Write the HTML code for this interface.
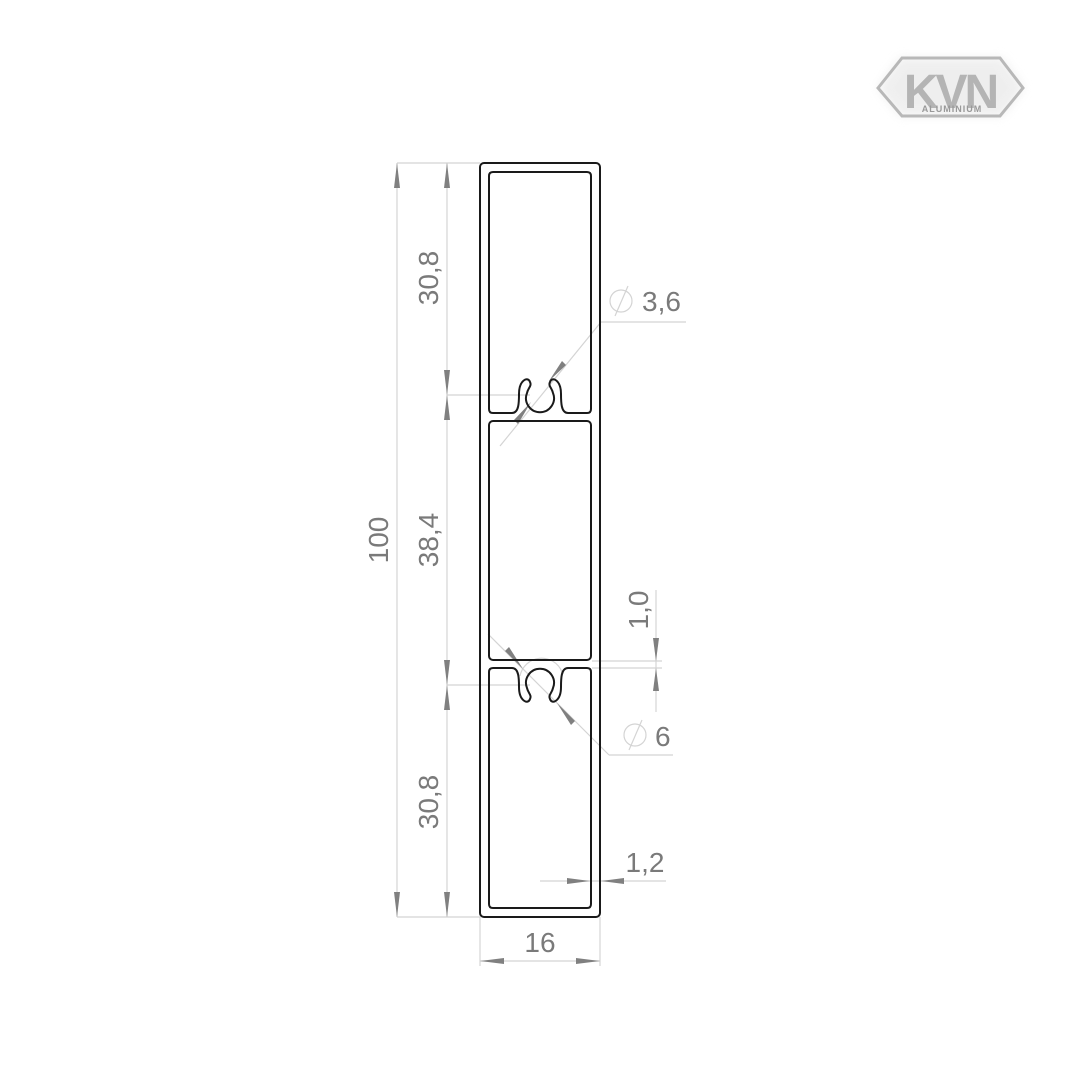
<!DOCTYPE html>
<html><head><meta charset="utf-8"><style>
html,body{margin:0;padding:0;background:#fff;}
svg{display:block;}
text{font-family:"Liberation Sans","DejaVu Sans",sans-serif;fill:#7a7a7a;}
</style></head><body>
<svg width="1080" height="1080" viewBox="0 0 1080 1080" xmlns="http://www.w3.org/2000/svg">
<defs>
<filter id="blur" x="-20%" y="-40%" width="140%" height="180%"><feGaussianBlur stdDeviation="5"/></filter>
</defs>
<g>
<polygon points="878,88 900,58 1002,58 1024,88 1002,116 900,116" fill="#e8e8e8" filter="url(#blur)" opacity="0.7"/>
<polygon points="878,88 902,58 1000,58 1023,88 1000,116 902,116" fill="none" stroke="#b8b8b8" stroke-width="3"/>
<text x="950" y="108" text-anchor="middle" font-size="48" style="fill:#b4b4b4;font-weight:bold" letter-spacing="-3">KVN</text>
<text x="952" y="112" text-anchor="middle" font-size="9" style="fill:#999;font-weight:bold" letter-spacing="1">ALUMINIUM</text>
</g>

<g stroke="#d4d4d4" stroke-width="1.2" fill="none">
<line x1="397" y1="163" x2="480" y2="163"/>
<line x1="397" y1="917" x2="480" y2="917"/>
<line x1="397" y1="163" x2="397" y2="917"/>
<line x1="447" y1="163" x2="447" y2="917"/>
<line x1="447" y1="395" x2="530" y2="395"/>
<line x1="447" y1="685" x2="530" y2="685"/>
<line x1="480" y1="917" x2="480" y2="966"/>
<line x1="600" y1="917" x2="600" y2="966"/>
<line x1="480" y1="961" x2="600" y2="961"/>
<line x1="540" y1="881" x2="666" y2="881"/>
<line x1="656" y1="590" x2="656" y2="712"/>
<line x1="592" y1="661" x2="662" y2="661"/>
<line x1="592" y1="668" x2="662" y2="668"/>
<line x1="500" y1="446" x2="601" y2="322"/>
<line x1="601" y1="322" x2="686" y2="322"/>
<line x1="488" y1="634" x2="609" y2="755"/>
<line x1="609" y1="755" x2="673" y2="755"/>
<path d="M520,676 A22,22 0 0 1 562,672"/>
<circle cx="621" cy="301" r="11"/>
<line x1="615" y1="316" x2="628" y2="286"/>
<circle cx="635" cy="735" r="11"/>
<line x1="629" y1="750" x2="642" y2="720"/>
</g>

<g fill="#808080">
<polygon points="397,163 394,188 400,188"/>
<polygon points="397,917 394,892 400,892"/>
<polygon points="447,163 444,188 450,188"/>
<polygon points="447,395 444,370 450,370"/>
<polygon points="447,395 444,420 450,420"/>
<polygon points="447,685 444,660 450,660"/>
<polygon points="447,685 444,710 450,710"/>
<polygon points="447,917 444,892 450,892"/>
<polygon points="480,961 504,958 504,964"/>
<polygon points="600,961 576,958 576,964"/>
<polygon points="590,881 567,878 567,884"/>
<polygon points="601,881 624,878 624,884"/>
<polygon points="656,661 653,638 659,638"/>
<polygon points="656,668 653,691 659,691"/>
<polygon points="549,381 562,361 566,365"/>
<polygon points="531,402 514,420 518,424"/>
<polygon points="523,669 505,651 509,647"/>
<polygon points="557,703 575,721 571,725"/>
</g>

<g fill="none" stroke="#1a1a1a" stroke-width="2">
<rect x="480" y="163" width="120" height="754" rx="4"/>
<path d="M493,172 H587 Q591,172 591,176 V409 Q591,413 587,413 H568 C561,413 561,402 561,394 C561,380 552,376 550,382 C548,386 552,388 553,393 A14,14 0 1 1 527,393 C528,388 532,386 530,382 C528,376 519,380 519,394 C519,402 519,413 512,413 H493 Q489,413 489,409 V176 Q489,172 493,172 Z"/>
<rect x="489" y="421" width="102" height="239" rx="4"/>
<path d="M493,908 H587 Q591,908 591,904 V672 Q591,668 587,668 H568 C561,668 561,679 561,687 C561,701 552,705 550,699 C548,695 552,693 553,688 A14,14 0 1 0 527,688 C528,693 532,695 530,699 C528,705 519,701 519,687 C519,679 519,668 512,668 H493 Q489,668 489,672 V904 Q489,908 493,908 Z"/>
</g>

<g font-size="28">
<text x="388" y="540" text-anchor="middle" transform="rotate(-90 388 540)">100</text>
<text x="438" y="278" text-anchor="middle" transform="rotate(-90 438 278)">30,8</text>
<text x="438" y="540" text-anchor="middle" transform="rotate(-90 438 540)">38,4</text>
<text x="438" y="802" text-anchor="middle" transform="rotate(-90 438 802)">30,8</text>
<text x="540" y="952" text-anchor="middle">16</text>
<text x="645" y="872" text-anchor="middle">1,2</text>
<text x="648" y="610" text-anchor="middle" transform="rotate(-90 648 610)">1,0</text>
<text x="642" y="311">3,6</text>
<text x="655" y="746">6</text>
</g>
</svg>
</body></html>
